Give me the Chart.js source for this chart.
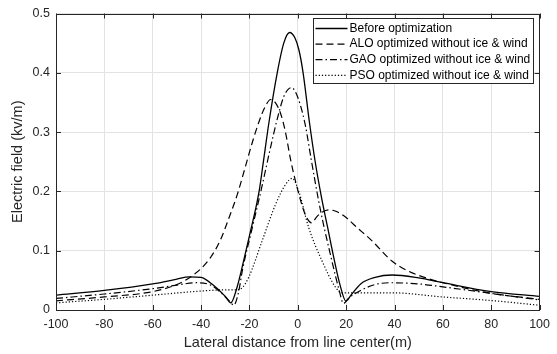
<!DOCTYPE html>
<html>
<head>
<meta charset="utf-8">
<script src="https://cdn.jsdelivr.net/npm/chart.js@4.4.1/dist/chart.umd.min.js"></script>
<style>
html,body{margin:0;padding:0;background:#fff}
</style>
</head>
<body>
<canvas id="efield" width="557" height="354"></canvas>
<script>
// ticks
var xTicks = [-100, -80, -60, -40, -20, 0, 20, 40, 60, 80, 100];
var yTicks = [0, 0.1, 0.2, 0.3, 0.4, 0.5];

// Before optimization (solid)
var beforeX = [-100,-80,-60,-50,-45,-40,-35,-30,-27.7,-25,-22,-20,-16,-14.4,-11.9,-8.5,-5.8,-3.4,-1.2,0.5,2.2,4.8,7.2,9.8,12.3,14.8,17.3,19.9,22,26,32,39,50,60,80,100];
var beforeY = [0.025,0.033,0.044,0.052,0.056,0.055,0.042,0.023,0.012,0.040,0.090,0.125,0.200,0.245,0.317,0.400,0.450,0.468,0.459,0.438,0.400,0.317,0.250,0.190,0.140,0.090,0.045,0.015,0.025,0.044,0.055,0.059,0.054,0.046,0.031,0.023];

// ALO optimized (dashed)
var aloX = [-100,-80,-60,-50,-45,-40,-36,-32,-28.4,-25,-22,-19,-16,-13.5,-11.2,-9,-7,-5,-3,-1,1,3.2,5.7,8,10,12.8,16,20,23.7,30.6,38.8,45,53.9,60,80,100];
var aloY = [0.0155,0.022,0.031,0.043,0.054,0.070,0.089,0.118,0.156,0.195,0.237,0.280,0.318,0.343,0.355,0.348,0.330,0.298,0.254,0.218,0.187,0.160,0.147,0.158,0.165,0.169,0.166,0.156,0.142,0.117,0.083,0.067,0.053,0.046,0.028,0.018];

// GAO optimized (dash-dot)
var gaoX = [-100,-80,-60,-50,-42,-36,-32,-28,-26.5,-24.5,-22.9,-18.8,-15,-11.5,-8.5,-5.8,-4,-2.6,-1,1.1,3.2,5.5,9.3,14.1,17,18.9,21,26,32,38,50,60,80,100];
var gaoY = [0.0195,0.027,0.036,0.042,0.046,0.042,0.030,0.014,0.008,0.030,0.067,0.139,0.205,0.270,0.322,0.360,0.372,0.375,0.368,0.345,0.310,0.255,0.170,0.083,0.035,0.011,0.020,0.033,0.043,0.046,0.044,0.039,0.028,0.017];

// PSO optimized (dotted)
var psoX = [-100,-80,-60,-40,-30,-25,-22.9,-20.2,-14.7,-9.2,-5,-2.3,0.4,4.5,10,15.5,18.2,25,38.8,60,80,100];
var psoY = [0.012,0.018,0.025,0.032,0.034,0.034,0.038,0.056,0.117,0.178,0.212,0.222,0.200,0.139,0.083,0.039,0.029,0.029,0.029,0.022,0.016,0.008];

var seriesNames = ['Before optimization', 'ALO optimized without ice & wind', 'GAO optimized without ice & wind', 'PSO optimized without ice & wind'];

function pts(xs, ys) {
  return xs.map(function (x, i) { return {x: x, y: ys[i]}; });
}

var FONT = '"Liberation Sans", Arial, sans-serif';
var AXC = '#262626';

// box, inward ticks (matlab style)
var framePlugin = {
  id: 'frame',
  afterDatasetsDraw: function (chart) {
    var c = chart.ctx, a = chart.chartArea, xs = chart.scales.x, ys = chart.scales.y;
    c.save();
    c.strokeStyle = AXC;
    c.lineWidth = 1;
    c.beginPath();
    xTicks.forEach(function (t) {
      var px = Math.round(xs.getPixelForValue(t)) + 0.5;
      c.moveTo(px, a.bottom); c.lineTo(px, a.bottom - 5);
      c.moveTo(px, a.top); c.lineTo(px, a.top + 5);
    });
    yTicks.forEach(function (t) {
      var py = Math.round(ys.getPixelForValue(t)) + 0.5;
      c.moveTo(a.left, py); c.lineTo(a.left + 5, py);
      c.moveTo(a.right, py); c.lineTo(a.right - 5, py);
    });
    c.stroke();
    c.strokeRect(Math.round(a.left) + 0.5, Math.round(a.top) + 0.5, Math.round(a.width) - 1, Math.round(a.height) - 1);
    c.restore();
  }
};

var legendPlugin = {
  id: 'boxLegend',
  afterDraw: function (chart) {
    var c = chart.ctx;
    var bx = 313.5, by = 18.5, bw = 220, bh = 65, row = 15.6;
    c.save();
    c.fillStyle = '#fff';
    c.fillRect(bx, by, bw, bh);
    c.strokeStyle = AXC;
    c.lineWidth = 1;
    c.strokeRect(bx, by, bw, bh);
    c.font = '12px ' + FONT;
    c.textBaseline = 'middle';
    chart.data.datasets.forEach(function (ds, i) {
      var y = by + 10 + i * row;
      c.strokeStyle = ds.borderColor;
      c.lineWidth = ds.borderWidth;
      c.setLineDash(ds.borderDash || []);
      c.beginPath();
      c.moveTo(bx + 2, y); c.lineTo(bx + 34, y);
      c.stroke();
      c.setLineDash([]);
      c.fillStyle = '#000';
      c.fillText(ds.label, bx + 36, y);
    });
    c.restore();
  }
};

function line(name, xs, ys, dash, w) {
  return {
    label: name,
    data: pts(xs, ys),
    borderColor: '#000',
    borderWidth: w,
    borderDash: dash,
    pointRadius: 0,
    fill: false,
    cubicInterpolationMode: 'monotone'
  };
}

var ctx = document.getElementById('efield').getContext('2d');
var efChart = new Chart(ctx, {
  type: 'line',
  data: {
    datasets: [
      line(seriesNames[0], beforeX, beforeY, [], 1.3),
      line(seriesNames[1], aloX, aloY, [7, 4], 1.2),
      line(seriesNames[2], gaoX, gaoY, [7, 3, 1.5, 3], 1.2),
      line(seriesNames[3], psoX, psoY, [1.2, 2], 1.2)
    ]
  },
  options: {
    responsive: false,
    animation: false,
    layout: {padding: {top: 10, right: 15, left: 0, bottom: 0}},
    plugins: {legend: {display: false}, tooltip: {enabled: false}},
    scales: {
      x: {
        type: 'linear',
        min: -100, max: 100,
        afterBuildTicks: function (s) { s.ticks = xTicks.map(function (v) { return {value: v}; }); },
        afterFit: function (s) { s.height = 44; },
        grid: {color: '#e3e3e3', drawTicks: false},
        border: {display: false},
        ticks: {padding: 7, color: AXC, font: {family: FONT, size: 12.5}, maxRotation: 0},
        title: {display: true, text: 'Lateral distance from line center(m)', color: AXC,
          font: {family: FONT, size: 14.5}, padding: {top: 0, bottom: 2}}
      },
      y: {
        min: 0, max: 0.5,
        afterBuildTicks: function (s) { s.ticks = yTicks.map(function (v) { return {value: v}; }); },
        afterFit: function (s) { s.width = 56; },
        grid: {color: '#e3e3e3', drawTicks: false},
        border: {display: false},
        ticks: {padding: 6, color: AXC, font: {family: FONT, size: 12.5},
          callback: function (v) { return String(+v.toFixed(1)); }},
        title: {display: true, text: 'Electric field (kv/m)', color: AXC,
          font: {family: FONT, size: 14.5}, padding: {top: 9, bottom: 0}}
      }
    }
  },
  plugins: [framePlugin, legendPlugin]
});
</script>
</body>
</html>
